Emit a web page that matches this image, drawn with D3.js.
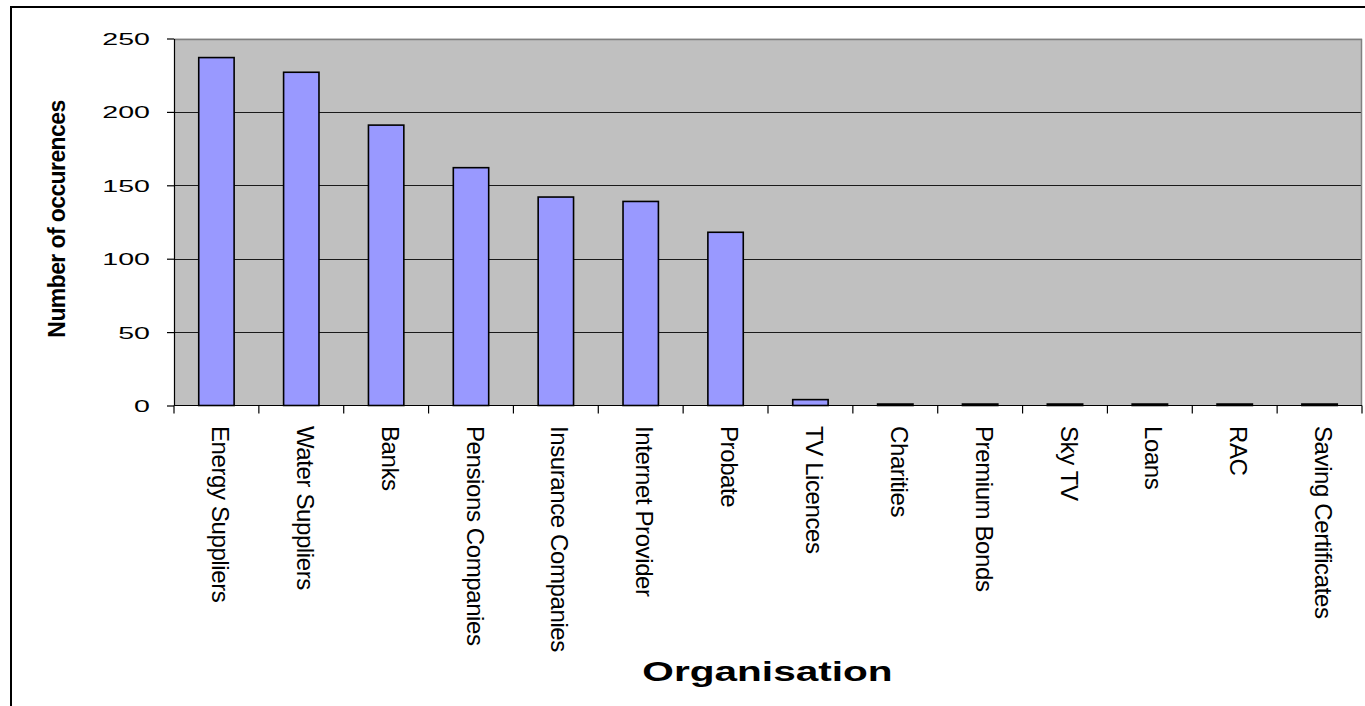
<!DOCTYPE html>
<html>
<head>
<meta charset="utf-8">
<script src="https://cdn.jsdelivr.net/npm/d3@7"></script>
<style>
  html, body { margin: 0; padding: 0; background: #fff; }
  svg { display: block; }
  text { font-family: "Liberation Sans", Arial, sans-serif; fill: #000; }
</style>
</head>
<body>
<svg id="chart" width="1365" height="706"></svg>
<script>
const categories = ["Energy Suppliers", "Water Suppliers", "Banks", "Pensions Companies",
  "Insurance Companies", "Internet Provider", "Probate", "TV Licences", "Charities",
  "Premium Bonds", "Sky TV", "Loans", "RAC", "Saving Certificates"];
const occurrences = [237, 227, 191, 162, 142, 139, 118, 4, 1, 1, 1, 1, 1, 1];
const yTicks = [0, 50, 100, 150, 200, 250];
const yTitle = "Number of occurences";
const xTitle = "Organisation";

const svg = d3.select("#chart");
const W = 1365, H = 706;
const plot = { left: 174, right: 1362, top: 38.5, bottom: 405.5 };

// outer chart border (extends beyond the window at right/bottom)
svg.append("rect")
  .attr("x", 11).attr("y", 7).attr("width", W + 20).attr("height", H + 20)
  .attr("fill", "#fff").attr("stroke", "#000").attr("stroke-width", 2);

const x = d3.scaleBand().domain(categories).range([plot.left, plot.right]).paddingInner(0.583).paddingOuter(0.2915);
const xEdge = d3.scaleLinear().domain([0, categories.length]).range([plot.left, plot.right]);
const y = d3.scaleLinear().domain([0, 250]).range([plot.bottom, plot.top]);

// plot area background
svg.append("rect")
  .attr("x", plot.left).attr("y", plot.top)
  .attr("width", plot.right - plot.left).attr("height", plot.bottom - plot.top)
  .attr("fill", "#C0C0C0");

// gridlines
svg.append("g").selectAll("line").data(yTicks.filter(d => d > 0 && d < 250)).join("line")
  .attr("x1", plot.left).attr("x2", plot.right)
  .attr("y1", d => Math.round(y(d)) + 0.5).attr("y2", d => Math.round(y(d)) + 0.5)
  .attr("stroke", "#1a1a1a").attr("stroke-width", 1);

// plot area top/right border (grey)
svg.append("path")
  .attr("d", `M${plot.left},${Math.round(plot.top) + 0.5}H${plot.right - 0.5}V${plot.bottom}`)
  .attr("fill", "none").attr("stroke", "#808080").attr("stroke-width", 1.5);

// bars
svg.append("g").selectAll("rect").data(categories).join("rect")
  .attr("x", d => x(d))
  .attr("width", x.bandwidth())
  .attr("y", (d, i) => y(occurrences[i]))
  .attr("height", (d, i) => y(0) - y(occurrences[i]))
  .attr("fill", "#9999FF").attr("stroke", "#000").attr("stroke-width", 1.6);

// y axis
const yAxis = d3.axisLeft(y).tickValues(yTicks).tickSize(7).tickPadding(17).tickSizeOuter(0);
const gy = svg.append("g").attr("transform", `translate(${plot.left},0)`).call(yAxis);
gy.select(".domain").attr("stroke", "#000").attr("stroke-width", 1.2);
gy.selectAll(".tick line").attr("stroke", "#000").attr("stroke-width", 1.2);
gy.selectAll(".tick text").remove();
gy.selectAll(".tick").append("g")
  .attr("transform", "translate(-24,6) scale(1.68,1)")
  .append("text")
  .attr("text-anchor", "end")
  .style("font-size", "17px")
  .text(d => d);

// x axis line and ticks at category boundaries
svg.append("line")
  .attr("x1", plot.left).attr("x2", plot.right)
  .attr("y1", plot.bottom).attr("y2", plot.bottom)
  .attr("stroke", "#000").attr("stroke-width", 1.2);
svg.append("g").selectAll("line").data(d3.range(categories.length + 1)).join("line")
  .attr("x1", d => xEdge(d)).attr("x2", d => xEdge(d))
  .attr("y1", plot.bottom).attr("y2", plot.bottom + 8)
  .attr("stroke", "#000").attr("stroke-width", 1.2);

// category labels rotated 90deg clockwise
svg.append("g").selectAll("text").data(categories).join("text")
  .attr("transform", d => `translate(${x(d) + x.bandwidth() / 2 - 4.5},${426}) rotate(90)`)
  .attr("text-anchor", "start")
  .style("font-size", "24px")
  .style("letter-spacing", "-0.4px")
  .text(d => d);

// y axis title
svg.append("text")
  .attr("transform", `translate(65,219) rotate(-90)`)
  .attr("text-anchor", "middle")
  .style("font-size", "23px").style("font-weight", "bold")
  .style("letter-spacing", "-0.6px")
  .text(yTitle);

// x axis title
svg.append("g")
  .attr("transform", `translate(767.5,681) scale(1.45,1)`)
  .append("text")
  .attr("text-anchor", "middle")
  .style("font-size", "28px").style("font-weight", "bold")
  .text(xTitle);
</script>
</body>
</html>
